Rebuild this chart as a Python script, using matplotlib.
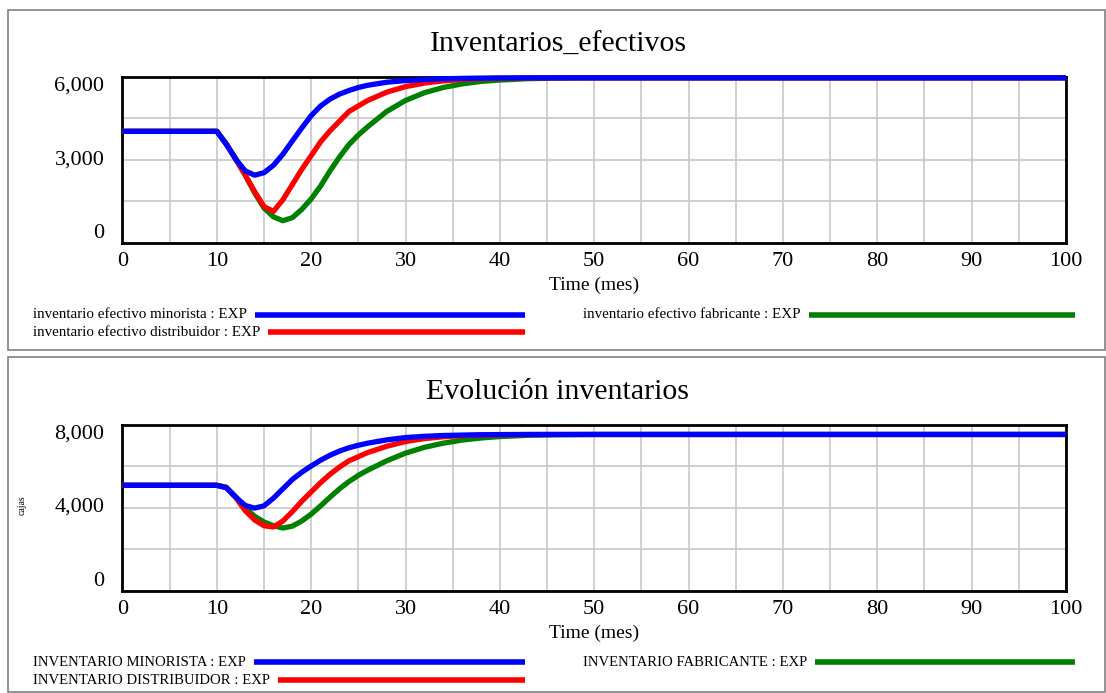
"""
Inventory curves, two stacked panels in Vensim style
"""

import matplotlib
matplotlib.use("Agg")
import matplotlib.pyplot as plt
from matplotlib.patches import Rectangle
from matplotlib.lines import Line2D

plt.rcParams["font.family"] = ["Liberation Serif", "DejaVu Serif"]

W, H = 1106, 693

# ---- data ----
t = [0, 10, 11, 12, 13, 14, 15, 16, 17, 18, 19, 20, 21, 22, 23, 24, 25, 26,
     28, 30, 32, 34, 36, 38, 40, 43, 46, 50, 100]

ef_minorista = [4030, 4030, 3560, 3020, 2600, 2440, 2530, 2800, 3200, 3680,
                4150, 4600, 4950, 5200, 5380, 5510, 5620, 5700, 5810, 5870,
                5910, 5935, 5950, 5960, 5965, 5970, 5970, 5970, 5970]
ef_distribuidor = [4030, 4030, 3570, 3020, 2450, 1850, 1300, 1130, 1550, 2100,
                   2650, 3150, 3650, 4050, 4400, 4750, 4950, 5150, 5450, 5650,
                   5780, 5860, 5910, 5940, 5955, 5965, 5970, 5970, 5970]
ef_fabricante = [4030, 4030, 3580, 3040, 2450, 1800, 1250, 930, 790, 900,
                 1200, 1580, 2050, 2600, 3100, 3550, 3900, 4200, 4750, 5150,
                 5430, 5620, 5750, 5840, 5890, 5940, 5960, 5970, 5970]

inv_minorista = [5070, 5070, 4950, 4500, 4100, 3970, 4080, 4450, 4900, 5350,
                 5700, 6000, 6280, 6520, 6720, 6880, 7000, 7100, 7260, 7370,
                 7430, 7470, 7490, 7505, 7515, 7520, 7520, 7520, 7520]
inv_distribuidor = [5070, 5070, 4970, 4480, 3850, 3400, 3120, 3060, 3350, 3800,
                    4300, 4750, 5200, 5600, 5950, 6250, 6450, 6650, 6950, 7180,
                    7320, 7410, 7460, 7490, 7505, 7515, 7520, 7520, 7520]
inv_fabricante = [5070, 5070, 4980, 4520, 3980, 3580, 3300, 3120, 3010, 3100,
                  3350, 3680, 4080, 4500, 4900, 5250, 5550, 5800, 6250, 6620,
                  6900, 7100, 7250, 7350, 7420, 7480, 7505, 7520, 7520]

top_labels = ["inventario efectivo minorista : EXP",
              "inventario efectivo distribuidor : EXP",
              "inventario efectivo fabricante : EXP"]
bot_labels = ["INVENTARIO MINORISTA : EXP",
              "INVENTARIO DISTRIBUIDOR : EXP",
              "INVENTARIO FABRICANTE : EXP"]

colors = ["#0000ff", "#ff0000", "#008000"]


def px(x, y):
    """ pixel (from top-left) -> figure fraction """
    return x / W, 1 - y / H


def make_panel(fig, top, bottom, series, ymax, title, title_y, labels, leg_y, leg_fs):
    ax = fig.add_axes([122.5 / W, 1 - bottom / H, (1066 - 122.5) / W, (bottom - top) / H])

    # green, red, blue so blue ends up on top (and over the frame, like Vensim)
    for vals, c in reversed(list(zip(series, colors))):
        ax.plot(t, vals, color=c, lw=3.8, solid_capstyle="butt", clip_on=False, zorder=5)

    ax.set_xlim(0, 100)
    ax.set_ylim(0, ymax)
    ax.set_xticks(range(0, 101, 10))
    ax.set_xticks(range(0, 101, 5), minor=True)
    ax.set_yticks([0, ymax / 2, ymax])
    ax.set_yticks([ymax / 4, 3 * ymax / 4], minor=True)
    ax.set_yticklabels(["0", f"{ymax // 2:,.0f}", f"{ymax:,.0f}"])
    for lab, va in zip(ax.get_yticklabels(), ["bottom", "center", "top"]):
        lab.set_va(va)
    ax.grid(True, which="both", color="#c8c8c8", lw=1.2, zorder=0)
    ax.tick_params(which="both", length=0)
    ax.tick_params(axis="x", labelsize=16, pad=7)
    ax.tick_params(axis="y", labelsize=16, pad=13)
    for s in ax.spines.values():
        s.set_linewidth(2)
        s.set_color("black")
        s.set_zorder(4)
    ax.set_xlabel("Time (mes)", fontsize=14, labelpad=4)

    fig.text(*px(558, title_y), title, fontsize=21.5, ha="center", va="center")

    # legend, drawn by hand: text then a thick line ending at a fixed x
    rend = fig.canvas.get_renderer()
    slots = [(33, leg_y[0], 525), (33, leg_y[1], 525), (583, leg_y[0], 1075)]
    for (x0, y0, x1), lab, c in zip(slots, labels, colors):
        txt = fig.text(*px(x0, y0), lab, fontsize=leg_fs, ha="left", va="center")
        bb = txt.get_window_extent(renderer=rend)
        xs = bb.x1 + 8
        fig.add_artist(Line2D([xs / W, x1 / W], [1 - y0 / H] * 2,
                              transform=fig.transFigure, color=c, lw=4,
                              solid_capstyle="butt"))
    return ax


fig = plt.figure(figsize=(W / 100, H / 100), dpi=100)

# panel frames
for y0, y1 in [(10, 350), (356.5, 692)]:
    fig.add_artist(Rectangle(px(8, y1), (1105 - 8) / W, (y1 - y0) / H,
                             transform=fig.transFigure, fill=False,
                             edgecolor="#808080", lw=1.2))

make_panel(fig, 77, 242.5, [ef_minorista, ef_distribuidor, ef_fabricante],
           6000, "Inventarios_efectivos", 45, top_labels, (315, 332), 10.8)
make_panel(fig, 424.5, 590.5, [inv_minorista, inv_distribuidor, inv_fabricante],
           8000, "Evolución inventarios", 392, bot_labels, (662, 680), 10.6)

fig.text(*px(22, 505), "cajas", fontsize=7, rotation=90, ha="center", va="center")

fig.savefig("out.png", dpi=100)
